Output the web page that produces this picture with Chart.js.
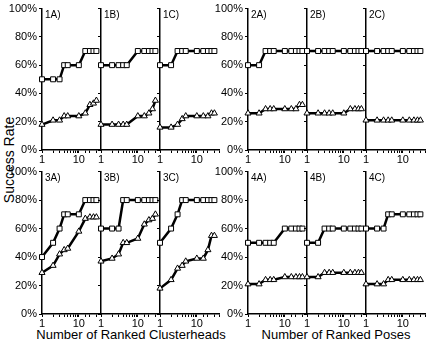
<!DOCTYPE html>
<html>
<head>
<meta charset="utf-8">
<script src="https://cdn.jsdelivr.net/npm/chart.js@4.4.0/dist/chart.umd.min.js"></script>
<style>
  body { margin: 0; background: #fff; width: 427px; height: 344px; position: relative; overflow: hidden;
         font-family: "Liberation Sans", Arial, sans-serif; }
  canvas { position: absolute; }
  .title { position: absolute; font-size: 13px; color: #000; white-space: nowrap; }
</style>
</head>
<body>
<div class="title" style="left:9px; top:160px; font-size:14px; transform: translate(-50%,-50%) rotate(-90deg);">Success Rate</div>
<div class="title" style="left:131px; top:334px; transform: translate(-50%,-50%);">Number of Ranked Clusterheads</div>
<div class="title" style="left:336px; top:334px; transform: translate(-50%,-50%);">Number of Ranked Poses</div>

<script>
// number of ranked clusterheads / poses
const ranks = [1, 2, 3, 4, 5, 10, 15, 20, 25, 30];

// success rate (%) - squares (upper curve) and triangles (lower curve)
const sq1A = [50, 50, 50, 60, 60, 60, 70, 70, 70, 70];
const tr1A = [18, 21, 21, 24, 24, 24, 26, 32, 33, 35];
const sq1B = [60, 60, 60, 60, 60, 70, 70, 70, 70, 70];
const tr1B = [18, 18, 18, 18, 18, 24, 24, 26, 29, 35];
const sq1C = [60, 60, 70, 70, 70, 70, 70, 70, 70, 70];
const tr1C = [16, 16, 18, 22, 24, 24, 24, 24, 26, 26];
const sq2A = [60, 60, 70, 70, 70, 70, 70, 70, 70, 70];
const tr2A = [26, 26, 29, 29, 29, 29, 29, 29, 32, 32];
const sq2B = [70, 70, 70, 70, 70, 70, 70, 70, 70, 70];
const tr2B = [26, 26, 26, 26, 26, 26, 29, 29, 29, 29];
const sq2C = [70, 70, 70, 70, 70, 70, 70, 70, 70, 70];
const tr2C = [21, 21, 21, 21, 21, 21, 21, 21, 21, 21];
const sq3A = [40, 50, 60, 70, 70, 70, 80, 80, 80, 80];
const tr3A = [29, 34, 42, 45, 46, 58, 67, 68, 68, 68];
const sq3B = [60, 60, 60, 80, 80, 80, 80, 80, 80, 80];
const tr3B = [37, 39, 42, 50, 50, 53, 63, 66, 67, 70];
const sq3C = [50, 60, 70, 80, 80, 80, 80, 80, 80, 80];
const tr3C = [18, 24, 32, 34, 37, 39, 39, 45, 55, 55];
const sq4A = [50, 50, 50, 50, 50, 60, 60, 60, 60, 60];
const tr4A = [21, 21, 24, 24, 24, 26, 26, 26, 26, 26];
const sq4B = [50, 50, 60, 60, 60, 60, 60, 60, 60, 60];
const tr4B = [26, 26, 29, 29, 29, 29, 29, 29, 29, 29];
const sq4C = [60, 60, 60, 70, 70, 70, 70, 70, 70, 70];
const tr4C = [21, 21, 21, 24, 24, 24, 24, 24, 24, 24];

const panelNames = ['1A)', '1B)', '1C)', '2A)', '2B)', '2C)', '3A)', '3B)', '3C)', '4A)', '4B)', '4C)'];
const squares = [sq1A, sq1B, sq1C, sq2A, sq2B, sq2C, sq3A, sq3B, sq3C, sq4A, sq4B, sq4C];
const triangles = [tr1A, tr1B, tr1C, tr2A, tr2B, tr2C, tr3A, tr3B, tr3C, tr4A, tr4B, tr4C];

// panel geometry
const colX = [42, 101, 160, 248, 307, 366];
const plotW = 59;
const rows = [{top: 6, h: 144}, {top: 169, h: 145}];
const padTop = 6, padRight = 6, xH = 16;

const FONT = '"Liberation Sans", Arial, sans-serif';

const panelLabel = {
  id: 'panelLabel',
  afterDraw(chart, args, opts) {
    const {ctx, chartArea} = chart;
    ctx.save();
    ctx.font = '10px ' + FONT;
    ctx.fillStyle = '#000';
    ctx.textBaseline = 'top';
    ctx.fillText(opts.text, chartArea.left + 3, chartArea.top + 2);
    ctx.restore();
  }
};

function toPoints(ys) {
  return ranks.map((r, i) => ({x: r, y: ys[i]}));
}

function series(ys, style) {
  return {
    data: toPoints(ys),
    borderColor: '#000',
    borderWidth: 2.5,
    tension: 0,
    pointStyle: style,
    pointRadius: 3.5,
    pointBackgroundColor: '#fff',
    pointBorderColor: '#000',
    pointBorderWidth: 1,
    clip: false
  };
}

for (let p = 0; p < 12; ++p) {
  const row = rows[Math.floor(p / 6)];
  const col = p % 6;
  const first = (col === 0 || col === 3);
  const yW = first ? 40 : 8;

  const cv = document.createElement('canvas');
  const w = yW + plotW + padRight;
  const h = padTop + row.h + xH;
  cv.width = w; cv.height = h;
  cv.style.width = w + 'px'; cv.style.height = h + 'px';
  cv.style.left = (colX[col] - yW) + 'px';
  cv.style.top = (row.top - padTop) + 'px';
  document.body.appendChild(cv);

  new Chart(cv, {
    type: 'line',
    data: {
      datasets: [series(squares[p], 'rect'), series(triangles[p], 'triangle')]
    },
    options: {
      responsive: false,
      animation: false,
      layout: {padding: {top: padTop, right: padRight, left: 0, bottom: 0}},
      plugins: {
        legend: {display: false},
        tooltip: {enabled: false},
        panelLabel: {text: panelNames[p]}
      },
      scales: {
        x: {
          type: 'logarithmic',
          min: 1,
          max: 40,
          afterFit: s => { s.height = xH; },
          border: {color: '#000', width: 1.5},
          grid: {drawOnChartArea: false, drawTicks: true, tickLength: 3, color: '#000'},
          ticks: {
            autoSkip: false,
            maxRotation: 0,
            padding: 0,
            color: '#000',
            font: {family: FONT, size: 11},
            callback: v => (v === 1 || v === 10) ? String(v) : ''
          }
        },
        y: {
          min: 0,
          max: 100,
          afterFit: s => { s.width = yW; },
          border: {color: '#000', width: 1.5},
          grid: {drawOnChartArea: false, drawTicks: true, tickLength: 3, color: '#000'},
          ticks: {
            stepSize: 10,
            padding: 2,
            color: '#000',
            font: {family: FONT, size: 11},
            callback: v => (first && v % 20 === 0) ? v + '%' : ''
          }
        }
      }
    },
    plugins: [panelLabel]
  });
}
</script>
</body>
</html>
